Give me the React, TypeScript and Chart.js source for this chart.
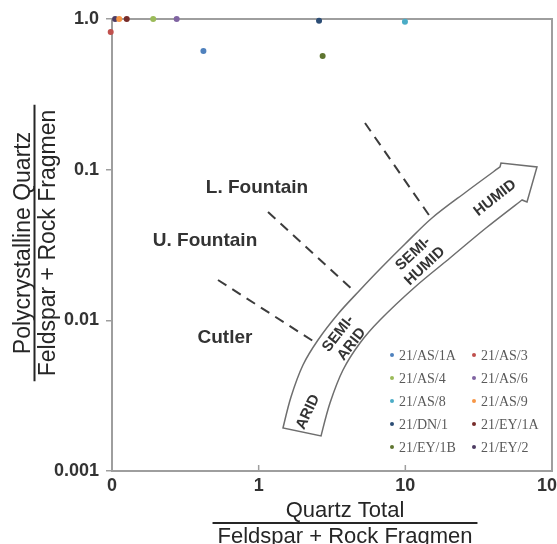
import React, { useEffect, useRef } from "react";
import { Chart, registerables } from "chart.js";

Chart.register(...registerables);

// ---- Data ----
const SERIES_LABELS = [
  "21/AS/1A", "21/AS/3", "21/AS/4", "21/AS/6", "21/AS/8",
  "21/AS/9", "21/DN/1", "21/EY/1A", "21/EY/1B", "21/EY/2",
];
const X_VALUES = [0.42, 0.098, 0.191, 0.276, 9.94, 0.112, 2.58, 0.126, 2.73, 0.105];
const Y_VALUES = [0.613, 0.82, 1.0, 1.0, 0.96, 1.0, 0.974, 1.0, 0.568, 1.0];
const SERIES_COLORS = [
  "#4f81bd", "#c0504d", "#9bbb59", "#8064a2", "#4bacc6",
  "#f79646", "#2c4d75", "#772c2a", "#5f7530", "#4d3b62",
];

const X_TICK_VALUES = [0.1, 1, 10, 100];
const X_TICK_LABELS = ["0", "1", "10", "100"];
const Y_TICK_VALUES = [0.001, 0.01, 0.1, 1];
const Y_TICK_LABELS = ["0.001", "0.01", "0.1", "1.0"];

const X_TITLE = ["Quartz Total", "Feldspar + Rock Fragmen"];
const Y_TITLE = ["Polycrystalline Quartz", "Feldspar + Rock Fragmen"];

// ---- Annotation geometry (data coordinates) ----
const BAND_INNER_X = [1.465, 1.661, 2.005, 2.538, 3.474, 4.909, 6.719, 9.947, 15.2, 25.92, 44.2];
const BAND_INNER_Y = [0.00193, 0.003099, 0.005053, 0.007405, 0.01102, 0.0159, 0.02191, 0.0321, 0.04777, 0.0711, 0.1042];
const BAND_OUTER_X = [2.661, 3.064, 3.758, 4.909, 6.719, 11.64, 20.16, 35.48, 62.44];
const BAND_OUTER_Y = [0.001708, 0.002827, 0.004681, 0.007073, 0.01005, 0.01665, 0.02593, 0.04101, 0.06293];
const ARROW_HEAD_X = [44.9, 79.0, 67.53];
const ARROW_HEAD_Y = [0.1107, 0.1042, 0.06101];

const DASH_X1 = [0.528, 1.158, 5.309];
const DASH_Y1 = [0.01852, 0.05237, 0.204];
const DASH_X2 = [2.346, 4.537, 14.96];
const DASH_Y2 = [0.007293, 0.01542, 0.04777];

const REGION_LABELS = ["L. Fountain", "U. Fountain", "Cutler"];
const REGION_X = [0.974, 0.4306, 0.5894];
const REGION_Y = [0.07556, 0.03362, 0.007634];

const CLIMATE_LABELS = [["ARID"], ["SEMI-", "ARID"], ["SEMI-", "HUMID"], ["HUMID"]];
const CLIMATE_X = [2.169, 3.878, 12.39, 40.87];
const CLIMATE_Y = [0.002465, 0.007518, 0.02515, 0.06486];
const CLIMATE_ANGLES = [-65, -52, -43, -38];

const SANS = "'Liberation Sans', Arial, Helvetica, sans-serif";
const SERIF = "'Liberation Serif', 'Times New Roman', serif";
const AXIS_GRAY = "#9e9e9e";

function smoothPath(ctx: CanvasRenderingContext2D, pts: number[][], start: boolean) {
  if (start) ctx.moveTo(pts[0][0], pts[0][1]);
  else ctx.lineTo(pts[0][0], pts[0][1]);
  for (let i = 0; i < pts.length - 1; i++) {
    const p0 = pts[i - 1] || pts[i];
    const p1 = pts[i];
    const p2 = pts[i + 1];
    const p3 = pts[i + 2] || pts[i + 1];
    const c1x = p1[0] + (p2[0] - p0[0]) / 6;
    const c1y = p1[1] + (p2[1] - p0[1]) / 6;
    const c2x = p2[0] - (p3[0] - p1[0]) / 6;
    const c2y = p2[1] - (p3[1] - p1[1]) / 6;
    ctx.bezierCurveTo(c1x, c1y, c2x, c2y, p2[0], p2[1]);
  }
}

const decorPlugin = {
  id: "decor",
  beforeDatasetsDraw(chart: any) {
    const { ctx, chartArea: a, scales } = chart;
    const xs = scales.x;
    const ys = scales.y;
    const px = (v: number) => xs.getPixelForValue(v);
    const py = (v: number) => ys.getPixelForValue(v);
    ctx.save();

    // frame
    ctx.strokeStyle = AXIS_GRAY;
    ctx.lineWidth = 2;
    ctx.strokeRect(a.left, a.top, a.right - a.left, a.bottom - a.top);
    // inward x ticks
    ctx.lineWidth = 1.5;
    X_TICK_VALUES.forEach((v) => {
      const x = px(v);
      if (x > a.left + 2 && x < a.right - 2) {
        ctx.beginPath();
        ctx.moveTo(x, a.bottom);
        ctx.lineTo(x, a.bottom - 6);
        ctx.stroke();
      }
    });

    // dashed lines
    ctx.strokeStyle = "#3c3c3c";
    ctx.lineWidth = 2;
    ctx.setLineDash([10, 7]);
    DASH_X1.forEach((_, i) => {
      ctx.beginPath();
      ctx.moveTo(px(DASH_X1[i]), py(DASH_Y1[i]));
      ctx.lineTo(px(DASH_X2[i]), py(DASH_Y2[i]));
      ctx.stroke();
    });
    ctx.setLineDash([]);

    // climate arrow band
    const inner = BAND_INNER_X.map((x, i) => [px(x), py(BAND_INNER_Y[i])]);
    const outer = BAND_OUTER_X.map((x, i) => [px(x), py(BAND_OUTER_Y[i])]).reverse();
    ctx.beginPath();
    smoothPath(ctx, inner, true);
    ARROW_HEAD_X.forEach((x, i) => ctx.lineTo(px(x), py(ARROW_HEAD_Y[i])));
    smoothPath(ctx, outer, false);
    ctx.closePath();
    ctx.strokeStyle = "#6e6e6e";
    ctx.lineWidth = 1.5;
    ctx.lineJoin = "miter";
    ctx.stroke();

    // region labels
    ctx.fillStyle = "#333333";
    ctx.font = `bold 19px ${SANS}`;
    ctx.textAlign = "center";
    ctx.textBaseline = "middle";
    REGION_LABELS.forEach((t, i) => ctx.fillText(t, px(REGION_X[i]), py(REGION_Y[i])));

    // climate labels
    ctx.font = `bold 15px ${SANS}`;
    CLIMATE_LABELS.forEach((lines, i) => {
      ctx.save();
      ctx.translate(px(CLIMATE_X[i]), py(CLIMATE_Y[i]));
      ctx.rotate((CLIMATE_ANGLES[i] * Math.PI) / 180);
      const lh = 17;
      lines.forEach((l, j) => {
        ctx.fillText(l, 0, (j - (lines.length - 1) / 2) * lh);
      });
      ctx.restore();
    });

    // legend
    ctx.font = `14px ${SERIF}`;
    ctx.textAlign = "left";
    ctx.textBaseline = "middle";
    const colX = [a.right - 160, a.right - 78];
    chart.data.datasets.forEach((ds: any, i: number) => {
      const row = Math.floor(i / 2);
      const col = i % 2;
      const x = colX[col];
      const y = a.bottom - 116 + row * 23;
      ctx.fillStyle = ds.backgroundColor;
      ctx.beginPath();
      ctx.arc(x, y, 2, 0, Math.PI * 2);
      ctx.fill();
      ctx.fillStyle = "#595959";
      ctx.fillText(ds.label, x + 7, y + 1);
    });

    ctx.restore();
  },
  afterDraw(chart: any) {
    const { ctx, chartArea: a } = chart;
    ctx.save();
    ctx.fillStyle = "#262626";
    ctx.strokeStyle = "#262626";
    ctx.textAlign = "center";
    ctx.textBaseline = "alphabetic";
    ctx.font = `22px ${SANS}`;
    // x title
    const cx = (a.left + a.right) / 2 + 13;
    ctx.fillText(X_TITLE[0], cx, a.bottom + 46);
    const wx = ctx.measureText(X_TITLE[1]).width;
    ctx.lineWidth = 2;
    ctx.beginPath();
    ctx.moveTo(cx - wx / 2 - 5, a.bottom + 52);
    ctx.lineTo(cx + wx / 2 + 5, a.bottom + 52);
    ctx.stroke();
    ctx.fillText(X_TITLE[1], cx, a.bottom + 72);

    // y title
    ctx.font = `23px ${SANS}`;
    const cy = 243;
    ctx.save();
    ctx.translate(30, cy);
    ctx.rotate(-Math.PI / 2);
    ctx.fillText(Y_TITLE[0], 0, 0);
    ctx.restore();
    const wy = ctx.measureText(Y_TITLE[1]).width;
    ctx.beginPath();
    ctx.moveTo(34.5, cy - wy / 2 - 5);
    ctx.lineTo(34.5, cy + wy / 2 + 5);
    ctx.stroke();
    ctx.save();
    ctx.translate(55, cy);
    ctx.rotate(-Math.PI / 2);
    ctx.fillText(Y_TITLE[1], 0, 0);
    ctx.restore();
    ctx.restore();
  },
};

export default function App() {
  const ref = useRef<HTMLCanvasElement | null>(null);

  useEffect(() => {
    if (!ref.current) return;
    const chart = new Chart(ref.current, {
      type: "scatter",
      data: {
        datasets: SERIES_LABELS.map((label, i) => ({
          label,
          data: [{ x: X_VALUES[i], y: Y_VALUES[i] }],
          backgroundColor: SERIES_COLORS[i],
          borderColor: SERIES_COLORS[i],
          borderWidth: 0,
          pointRadius: 3,
          pointHoverRadius: 3,
          clip: false as any,
        })),
      },
      options: {
        responsive: false,
        animation: false,
        devicePixelRatio: 1,
        events: [],
        layout: { padding: { top: 19, right: 5, left: 0, bottom: 0 } },
        plugins: { legend: { display: false }, tooltip: { enabled: false } },
        scales: {
          x: {
            type: "logarithmic",
            min: 0.1,
            max: 100,
            afterBuildTicks: (s: any) => {
              s.ticks = X_TICK_VALUES.map((v) => ({ value: v }));
            },
            afterFit: (s: any) => {
              s.height = 73;
              s.paddingLeft = 0;
              s.paddingRight = 0;
            },
            ticks: {
              autoSkip: false,
              maxRotation: 0,
              padding: 4,
              color: "#333333",
              font: { family: SANS, size: 18, weight: "bold" },
              callback: (v: any) => {
                const i = X_TICK_VALUES.indexOf(Number(v));
                return i >= 0 ? X_TICK_LABELS[i] : "";
              },
            },
            grid: { display: false, drawTicks: false, drawOnChartArea: false },
            border: { display: false },
          },
          y: {
            type: "logarithmic",
            min: 0.001,
            max: 1,
            afterBuildTicks: (s: any) => {
              s.ticks = Y_TICK_VALUES.map((v) => ({ value: v }));
            },
            afterFit: (s: any) => {
              s.width = 112;
              s.paddingTop = 0;
              s.paddingBottom = 0;
            },
            ticks: {
              autoSkip: false,
              padding: 7,
              color: "#333333",
              font: { family: SANS, size: 18, weight: "bold" },
              callback: (v: any) => {
                const i = Y_TICK_VALUES.indexOf(Number(v));
                return i >= 0 ? Y_TICK_LABELS[i] : "";
              },
            },
            grid: {
              drawOnChartArea: false,
              drawTicks: true,
              tickLength: 6,
              color: AXIS_GRAY,
              lineWidth: 1.5,
            },
            border: { display: false },
          },
        },
      } as any,
      plugins: [decorPlugin],
    });
    return () => chart.destroy();
  }, []);

  return (
    <div style={{ position: "fixed", left: 0, top: 0, width: 557, height: 544, background: "#fff" }}>
      <canvas ref={ref} width={557} height={544} style={{ display: "block" }} />
    </div>
  );
}
